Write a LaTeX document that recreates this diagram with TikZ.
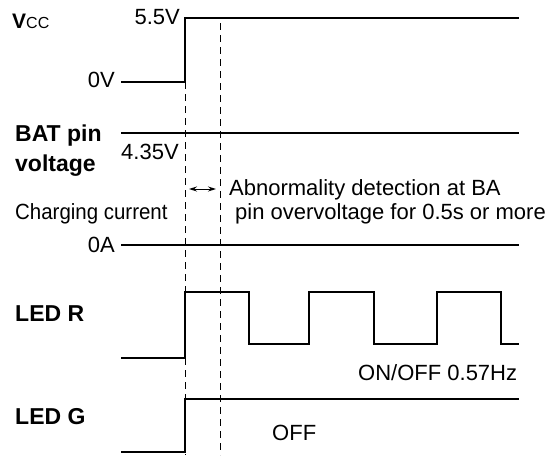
\documentclass[tikz,border=0pt]{standalone}
\usepackage{fontspec}
\setmainfont{Liberation Sans}
\usetikzlibrary{arrows.meta}

\begin{document}
\begin{tikzpicture}[x=1pt, y=-1pt,
    wave/.style={line width=2pt},
    tline/.style={line width=0.9pt, dash pattern=on 7pt off 5pt},
    sig/.style={font=\bfseries\fontsize{23}{27}\selectfont, anchor=base west, inner sep=0pt},
    lvl/.style={font=\fontsize{22}{26}\selectfont, anchor=base east, inner sep=0pt},
    note/.style={font=\fontsize{22}{26}\selectfont, anchor=base west, inner sep=0pt}]
    \useasboundingbox (0,0) rectangle (551,455);

    % signal names
    \node[sig] (vcc) at (12,28) {\fontsize{21}{24}\selectfont V\mdseries\fontsize{16}{18}\selectfont CC};
    \node[sig] (bat) at (15,141) {BAT pin};
    \node[sig] (batv) at (15,171) {voltage};
    \node[note, xscale=0.93] (chg) at (15,219.5) {Charging current};
    \node[sig] (ledr) at (15,321) {LED R};
    \node[sig] (ledg) at (15,424) {LED G};

    % levels
    \node[lvl] (v55) at (180,24) {5.5V};
    \node[lvl] (v0) at (115,87) {0V};
    \node[note] (v435) at (121,159) {4.35V};
    \node[lvl] (a0) at (115,252) {0A};

    % timing marks
    \coordinate (t1top) at (185,82);
    \coordinate (t1bot) at (185,455);
    \coordinate (t2top) at (220,23);
    \coordinate (t2bot) at (220,455);
    \draw[tline] (t1top) -- (t1bot);
    \draw[tline] (t2top) -- (t2bot);
    \coordinate (arl) at (189,189);
    \coordinate (arr) at (216,189);
    \draw[{Stealth[length=8pt,width=5pt]}-{Stealth[length=8pt,width=5pt]}, line width=1pt] (arl) -- (arr);

    % waveforms
    \draw[wave] (121,82) -- (185,82) -- (185,18) -- (519,18);
    \draw[wave] (121,133) -- (519,133);
    \draw[wave] (121,245) -- (519,245);
    \draw[wave] (121,358) -- (185,358) -- (185,292) -- (249,292) -- (249,344)
        -- (309,344) -- (309,292) -- (374,292) -- (374,344) -- (437,344)
        -- (437,292) -- (501,292) -- (501,344) -- (519,344);
    \draw[wave] (121,452) -- (185,452) -- (185,399) -- (519,399);

    % notes
    \node[note] (abn1) at (229,195.5) {Abnormality detection at BA};
    \node[note] (abn2) at (235,219.5) {pin overvoltage for 0.5s or more};
    \node[note] (onoff) at (358,380) {ON/OFF 0.57Hz};
    \node[note] (off) at (272,440) {OFF};
\end{tikzpicture}
\end{document}
